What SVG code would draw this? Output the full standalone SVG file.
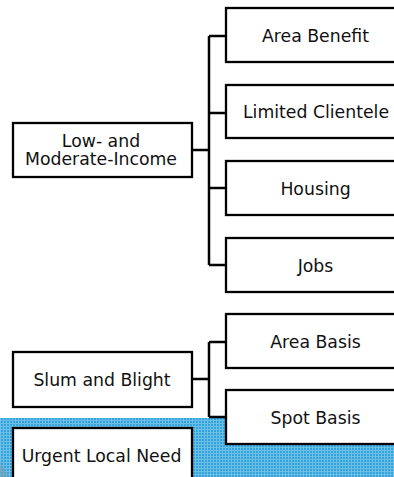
<svg xmlns="http://www.w3.org/2000/svg" width="394" height="477" viewBox="0 0 394 477">
<style>
.box{fill:#fff;stroke:#000;stroke-width:2.3}
.lbl{font-family:"DejaVu Sans",sans-serif;font-size:17.3px;fill:#111;text-anchor:middle}
.conn{fill:none;stroke:#000;stroke-width:2.5}
</style>
<defs>
<pattern id="dots" width="3" height="3" patternUnits="userSpaceOnUse">
<rect width="3" height="3" fill="#33a3da"/>
<rect width="3" height="1" fill="#6cbfe8"/>
<rect width="1" height="3" fill="#6cbfe8"/>
</pattern>
</defs>
<rect x="0" y="0" width="394" height="477" fill="#fff"/>
<rect x="0" y="418" width="394" height="59" fill="url(#dots)"/>
<polygon points="0,462 9,477 0,477" fill="#7a9fb0" opacity="0.6"/>
<g id="connectors">
<path class="conn" d="M192,150 H209 M209,36 V265 M209,36 H226 M209,113 H226 M209,188 H226 M209,265 H226"/>
<path class="conn" d="M192,379 H209 M209,342 V417 M209,342 H226 M209,417 H226"/>
</g>
<g id="low-moderate">
<rect class="box" x="13" y="123" width="179" height="54"/>
<text class="lbl" x="101" y="146.5">Low- and</text>
<text class="lbl" x="101" y="165">Moderate-Income</text>
</g>
<g id="area-benefit">
<rect class="box" x="226" y="8" width="200" height="54"/>
<text class="lbl" x="315.5" y="42">Area Benefit</text>
</g>
<g id="limited-clientele">
<rect class="box" x="226" y="85" width="200" height="53"/>
<text class="lbl" x="316" y="118.3">Limited Clientele</text>
</g>
<g id="housing">
<rect class="box" x="226" y="161" width="200" height="54"/>
<text class="lbl" x="315.5" y="195">Housing</text>
</g>
<g id="jobs">
<rect class="box" x="226" y="238" width="200" height="54"/>
<text class="lbl" x="315.5" y="271.5">Jobs</text>
</g>
<g id="slum-blight">
<rect class="box" x="13" y="352" width="179" height="55"/>
<text class="lbl" x="102" y="386">Slum and Blight</text>
</g>
<g id="area-basis">
<rect class="box" x="226" y="314" width="200" height="54"/>
<text class="lbl" x="315.5" y="348">Area Basis</text>
</g>
<g id="spot-basis">
<rect class="box" x="226" y="390" width="200" height="54"/>
<text class="lbl" x="315.5" y="424">Spot Basis</text>
</g>
<g id="urgent-local-need">
<rect class="box" x="13" y="428" width="179" height="60"/>
<text class="lbl" x="101.5" y="461.5">Urgent Local Need</text>
</g>
</svg>
